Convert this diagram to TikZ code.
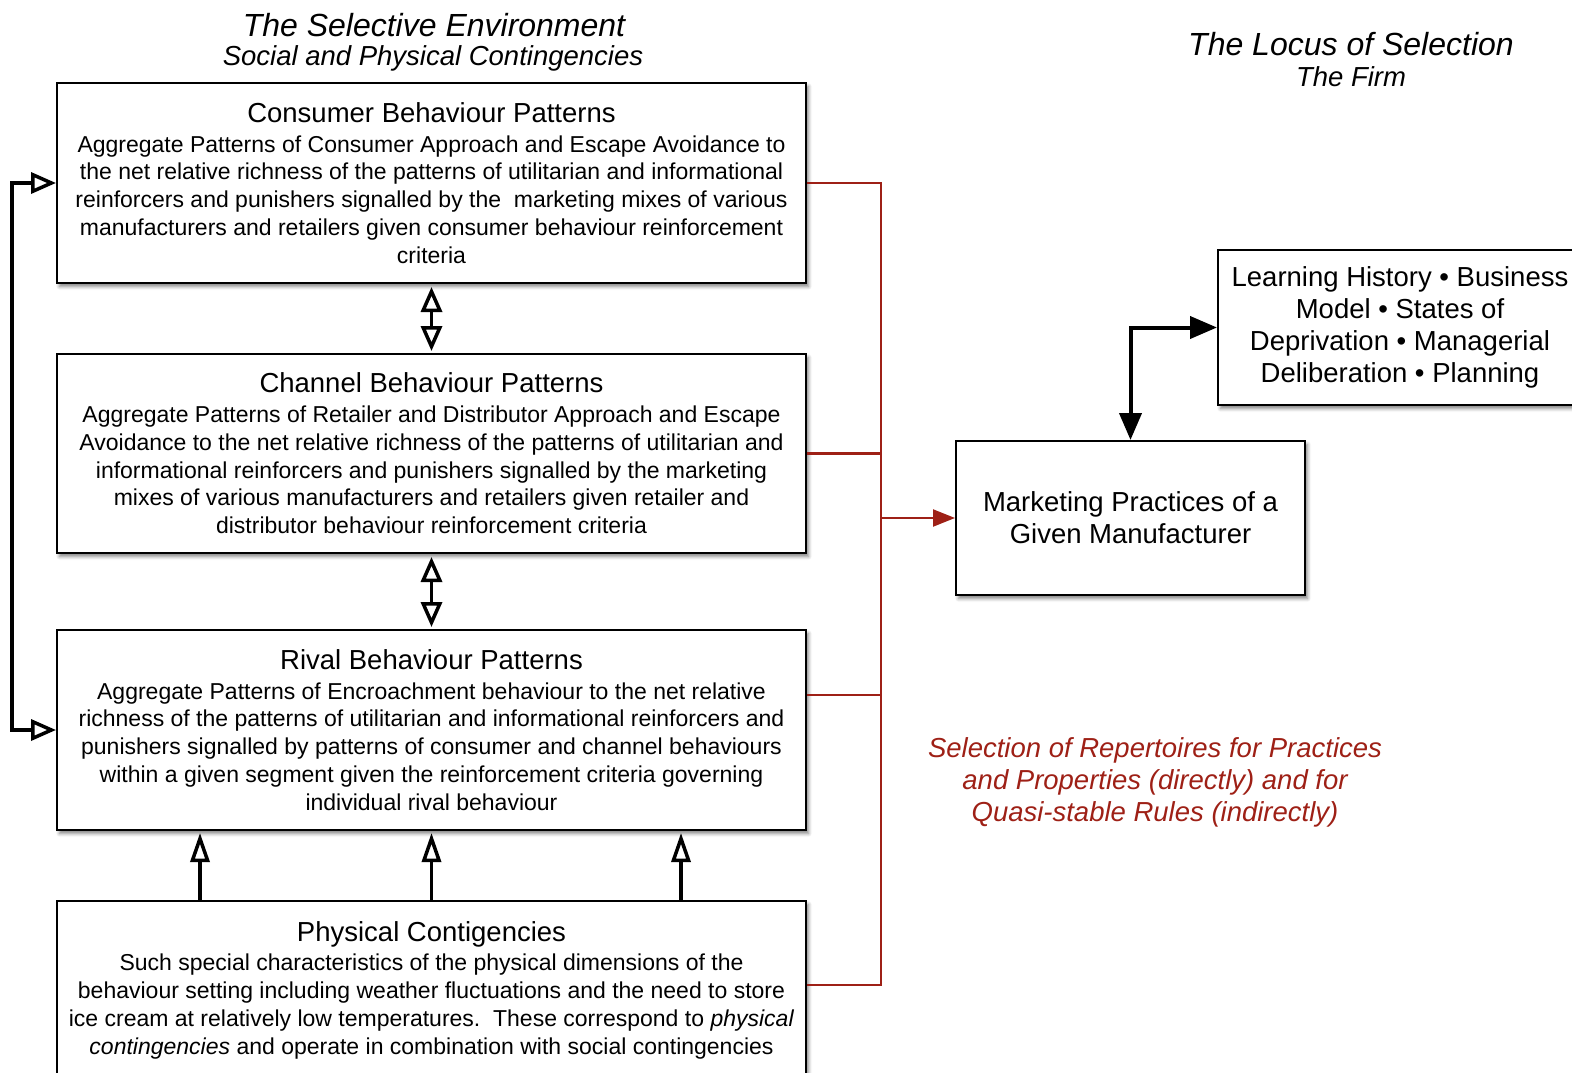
\documentclass[tikz,border=0pt]{standalone}
\usepackage{fontspec}
\setmainfont{Liberation Sans}
\usetikzlibrary{arrows.meta,shadows.blur}
\definecolor{selred}{RGB}{158,32,22}
\newcommand\bodysz{\fontsize{23}{27.75}\selectfont}
\newcommand\headsz{\fontsize{27.5}{32}\selectfont}
\newcommand\titlesz{\fontsize{32}{38}\selectfont}
\tikzset{
  box/.style={draw, line width=2pt, fill=white, align=center, inner sep=0pt,
    font=\bodysz,
    blur shadow={shadow xshift=2.5pt, shadow yshift=-3.5pt, shadow blur radius=3.5pt,
      shadow opacity=50, shadow blur steps=6}},
  firmbox/.style={box, font=\headsz},
  titletext/.style={font=\titlesz\itshape, inner sep=0pt},
  subtext/.style={font=\headsz\itshape, inner sep=0pt},
  openpair/.style={line width=3.5pt, {Triangle[open, length=25pt, width=21pt]}-{Triangle[open, length=25pt, width=21pt]}},
  openup/.style={line width=3.5pt, -{Triangle[open, length=29pt, width=19pt]}},
  redline/.style={draw=selred, line width=2.2pt},
  redarrow/.style={redline, -{Triangle[length=22pt, width=17pt]}},
  blackpair/.style={line width=4pt, {Triangle[length=27pt, width=22pt]}-{Triangle[length=27pt, width=22pt]}},
}
\begin{document}
\begin{tikzpicture}[x=1pt, y=-1pt]
\useasboundingbox (0,0) rectangle (1572,1073);
\clip (0,0) rectangle (1572,1073);

% headings of the two halves
\node[titletext] (envtitle) at (434,25) {The Selective Environment};
\node[subtext] (envsub) at (433,58) {Social and Physical Contingencies};
\node[titletext] (locustitle) at (1351,44) {The Locus of Selection};
\node[subtext] (locussub) at (1351,77) {The Firm};

% the four environment boxes
\node[box, minimum width=749pt, minimum height=200pt] (b1) at (431.5,183) {%
  {\headsz Consumer Behaviour Patterns}\\[2pt]
  Aggregate Patterns of Consumer Approach and Escape Avoidance to\\
  the net relative richness of the patterns of utilitarian and informational\\
  reinforcers and punishers signalled by the\ \ marketing mixes of various\\
  manufacturers and retailers given consumer behaviour reinforcement\\
  criteria};

\node[box, minimum width=749pt, minimum height=199pt] (b2) at (431.5,453.5) {%
  {\headsz Channel Behaviour Patterns}\\[2pt]
  Aggregate Patterns of Retailer and Distributor Approach and Escape\\
  Avoidance to the net relative richness of the patterns of utilitarian and\\
  informational reinforcers and punishers signalled by the marketing\\
  mixes of various manufacturers and retailers given retailer and\\
  distributor behaviour reinforcement criteria};

\node[box, minimum width=749pt, minimum height=200pt] (b3) at (431.5,730) {%
  {\headsz Rival Behaviour Patterns}\\[2pt]
  Aggregate Patterns of Encroachment behaviour to the net relative\\
  richness of the patterns of utilitarian and informational reinforcers and\\
  punishers signalled by patterns of consumer and channel behaviours\\
  within a given segment given the reinforcement criteria governing\\
  individual rival behaviour};

\node[box, minimum width=749pt, minimum height=178pt] (b4) at (431.5,990) {%
  {\headsz Physical Contigencies}\\[2pt]
  Such special characteristics of the physical dimensions of the\\
  behaviour setting including weather fluctuations and the need to store\\
  ice cream at relatively low temperatures.\ \ These correspond to \textit{physical}\\
  \textit{contingencies} and operate in combination with social contingencies};

% the firm
\node[firmbox, minimum width=349pt, minimum height=154pt] (mkt) at (1130.5,518)
  {Marketing Practices of a\\ Given Manufacturer};
\node[firmbox, minimum width=364pt, minimum height=155pt] (learn) at (1400,327.5)
  {Learning History • Business\\ Model • States of\\ Deprivation • Managerial\\ Deliberation • Planning};

% selection label
\node[font=\headsz\itshape, text=selred, align=center, inner sep=0pt] (sel) at (1155,782)
  {Selection of Repertoires for Practices\\ and Properties (directly) and for\\ Quasi-stable Rules (indirectly)};

% links between the environment boxes
\draw[openpair, shorten <=3pt, shorten >=2pt] (b1.south) -- (b2.north);
\draw[openpair, shorten <=3pt, shorten >=2pt] (b2.south) -- (b3.north);
\draw[openpair] (b1.west) -- ++(-44,0) |- (b3.west);
\draw[openup, shorten >=2pt] ([xshift=-231.5pt]b4.north) -- ([xshift=-231.5pt]b3.south);
\draw[openup, shorten >=2pt] (b4.north) -- (b3.south);
\draw[openup, shorten >=2pt] ([xshift=249.5pt]b4.north) -- ([xshift=249.5pt]b3.south);

% selective feedback onto the firm
\coordinate (bus) at (881,0);
\draw[redline] (b1.east) -- (b1.east -| bus) -- ([yshift=5pt]b4.east -| bus) -- ([yshift=5pt]b4.east);
\draw[redline] (b2.east) -- (b2.east -| bus);
\draw[redline] ([yshift=35pt]b3.east) -- ([yshift=35pt]b3.east -| bus);
\draw[redarrow] (mkt.west -| bus) -- (mkt.west);

% firm internals
\draw[blackpair] (mkt.north) |- (learn.west);
\end{tikzpicture}
\end{document}
